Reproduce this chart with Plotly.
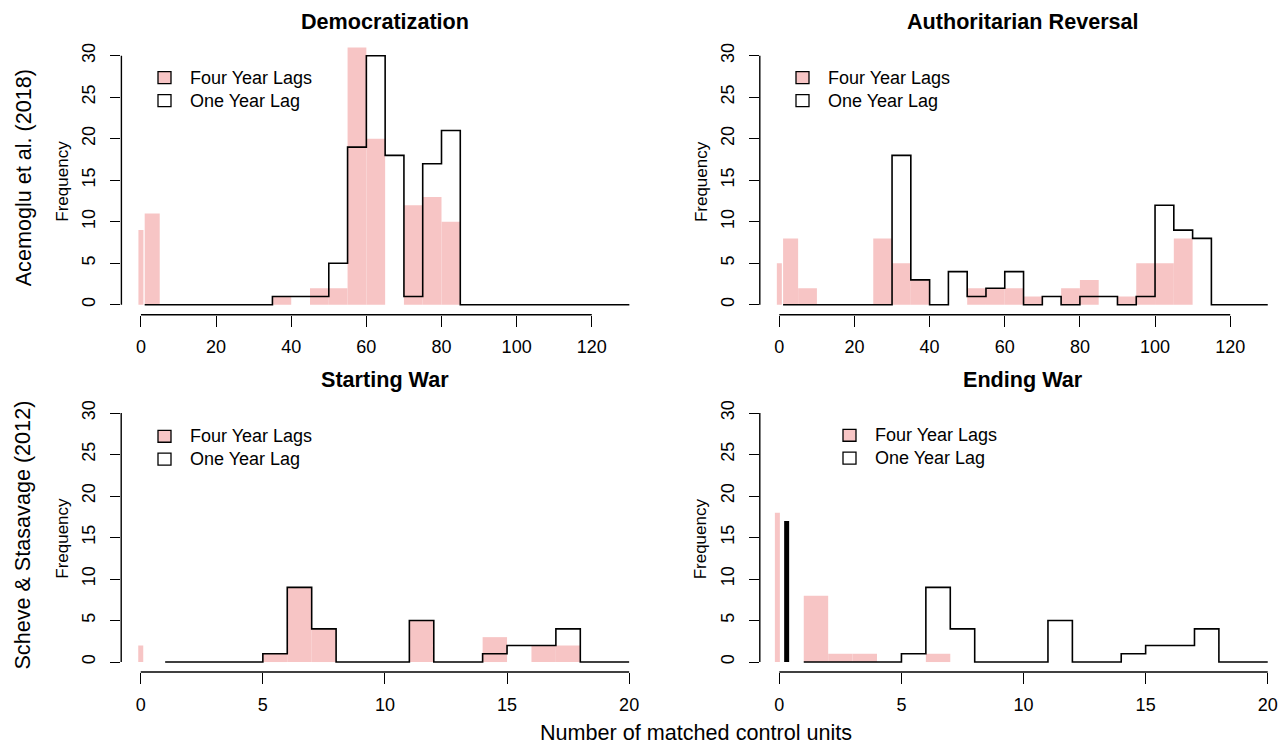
import plotly.graph_objects as go

# ---------------- data ----------------
# top row: bins of width 5 (first bin starts at 1), 1..130
top_edges = [1] + list(range(5, 131, 5))
# bottom row: bins of width 1, 1..20
bot_edges = list(range(1, 21))

demo_four = [11, 0, 0, 0, 0, 0, 0, 1, 0, 2, 2, 31, 20, 0, 12, 13, 10, 0, 0, 0, 0, 0, 0, 0, 0, 0]
demo_one = [0, 0, 0, 0, 0, 0, 0, 1, 1, 1, 5, 19, 30, 18, 1, 17, 21, 0, 0, 0, 0, 0, 0, 0, 0, 0]
demo_zero_four = 9

auth_four = [8, 2, 0, 0, 0, 8, 5, 3, 0, 0, 2, 2, 2, 1, 0, 2, 3, 0, 1, 5, 5, 8, 0, 0, 0, 0]
auth_one = [0, 0, 0, 0, 0, 0, 18, 3, 0, 4, 1, 2, 4, 0, 1, 0, 1, 1, 0, 1, 12, 9, 8, 0, 0, 0]
auth_zero_four = 5

start_four = [0, 0, 0, 0, 1, 9, 4, 0, 0, 0, 5, 0, 0, 3, 0, 2, 2, 0, 0]
start_one = [0, 0, 0, 0, 1, 9, 4, 0, 0, 0, 5, 0, 0, 1, 2, 2, 4, 0, 0]
start_zero_four = 2

end_four = [8, 1, 1, 0, 0, 1, 0, 0, 0, 0, 0, 0, 0, 0, 0, 0, 0, 0, 0]
end_one = [0, 0, 0, 0, 1, 9, 4, 0, 0, 0, 5, 0, 0, 1, 2, 2, 4, 0, 0]
end_zero_four = 18
end_zero_one = 17

titles = ["Democratization", "Authoritarian Reversal", "Starting War", "Ending War"]
row_labels = ["Acemoglu et al. (2018)", "Scheve & Stasavage (2012)"]
legend_labels = ["Four Year Lags", "One Year Lag"]
x_ticks_top = [0, 20, 40, 60, 80, 100, 120]
x_ticks_bot = [0, 5, 10, 15, 20]
y_ticks = [0, 5, 10, 15, 20, 25, 30]
x_label = "Number of matched control units"
y_label = "Frequency"

# ---------------- style ----------------
W, H = 1286, 748
PINK = "rgb(247,197,197)"
FONT = "Liberation Sans, Arial, sans-serif"
BASE = 18


def px(x):
    return x / W


def py(y):
    return 1 - y / H


# pixel geometry of the four plot regions (left, right, top, bottom)
regions = [
    (121.4, 649.0, 43.0, 313.0),
    (759.8, 1286.0, 43.0, 313.0),
    (121.2, 648.6, 401.7, 671.7),
    (759.8, 1286.0, 401.7, 671.7),
]
# x-axis scale: (value at left edge, px per unit)
xscale = [(-5.2, 3.757), (-5.2, 3.757), (-0.8, 24.42), (-0.8, 24.42)]

panels = [
    dict(edges=top_edges, four=demo_four, one=demo_one, zf=(0.0, demo_zero_four), zo=None, ticks=x_ticks_top, leg=(158, 69)),
    dict(edges=top_edges, four=auth_four, one=auth_one, zf=(0.0, auth_zero_four), zo=None, ticks=x_ticks_top, leg=(796, 69)),
    dict(edges=bot_edges, four=start_four, one=start_one, zf=(0.0, start_zero_four), zo=None, ticks=x_ticks_bot, leg=(158, 429)),
    dict(edges=bot_edges, four=end_four, one=end_one, zf=(-0.08, end_zero_four), zo=(0.3, end_zero_one), ticks=x_ticks_bot, leg=(843, 428)),
]

fig = go.Figure()
shapes = []
annotations = []

for i, p in enumerate(panels):
    n = i + 1
    xa = "x" if n == 1 else f"x{n}"
    ya = "y" if n == 1 else f"y{n}"
    xkey = "xaxis" if n == 1 else f"xaxis{n}"
    ykey = "yaxis" if n == 1 else f"yaxis{n}"
    L, R, T, B = regions[i]
    x0v, sc = xscale[i]
    xr = [x0v, x0v + (R - L) / sc]

    edges = p["edges"]
    centers = [(edges[k] + edges[k + 1]) / 2 for k in range(len(edges) - 1)]
    widths = [edges[k + 1] - edges[k] for k in range(len(edges) - 1)]

    fig.add_trace(go.Bar(x=centers, y=p["four"], width=widths, marker=dict(color=PINK, line=dict(width=0)),
                         xaxis=xa, yaxis=ya, showlegend=False, hoverinfo="skip"))
    # zero-count spike(s)
    zx, zy = p["zf"]
    fig.add_trace(go.Scatter(x=[zx, zx], y=[0, zy], mode="lines", line=dict(color=PINK, width=5),
                             xaxis=xa, yaxis=ya, showlegend=False, hoverinfo="skip"))
    if p["zo"] is not None:
        zx, zy = p["zo"]
        fig.add_trace(go.Scatter(x=[zx, zx], y=[0, zy], mode="lines", line=dict(color="black", width=5),
                                 xaxis=xa, yaxis=ya, showlegend=False, hoverinfo="skip"))
    # one-year-lag outline (step)
    fig.add_trace(go.Scatter(x=edges, y=p["one"] + [p["one"][-1]], mode="lines", line=dict(color="black", width=1.6, shape="hv"),
                             xaxis=xa, yaxis=ya, showlegend=False, hoverinfo="skip"))

    fig.layout[xkey] = dict(domain=[px(L), px(R)], range=xr, anchor=ya, showgrid=False, zeroline=False, showline=False,
                           tickmode="array", tickvals=p["ticks"], ticks="outside", ticklen=11, tickwidth=1.4, tickcolor="black",
                           tickfont=dict(size=BASE, color="black", family=FONT), ticklabelstandoff=5, fixedrange=True)
    fig.layout[ykey] = dict(domain=[py(B), py(T)], range=[-1.2, 31.2], anchor=xa, showgrid=False, zeroline=False, showline=False,
                           tickmode="array", tickvals=y_ticks, ticks="outside", ticklen=10, tickwidth=1.4, tickcolor="black",
                           tickangle=-90, tickfont=dict(size=BASE, color="black", family=FONT), ticklabelstandoff=8, fixedrange=True)

    # partial axis lines (R style)
    shapes.append(dict(type="line", xref=xa, yref=f"{ya} domain", x0=min(p["ticks"]), x1=max(p["ticks"]), y0=0, y1=0,
                       line=dict(color="black", width=1.4)))
    shapes.append(dict(type="line", xref=f"{xa} domain", yref=ya, x0=0, x1=0, y0=min(y_ticks), y1=max(y_ticks),
                       line=dict(color="black", width=1.4)))

    # title
    annotations.append(dict(text=f"<b>{titles[i]}</b>", x=px((L + R) / 2) if i % 2 == 0 else px(1023), y=py(T - 24),
                            xref="paper", yref="paper", showarrow=False, xanchor="center", yanchor="middle",
                            font=dict(size=21.6, family=FONT, color="black")))
    # Frequency label
    annotations.append(dict(text=y_label, x=px(L - 59), y=py((T + B) / 2 + 1), xref="paper", yref="paper", showarrow=False,
                            textangle=-90, xanchor="center", yanchor="middle", font=dict(size=17, family=FONT, color="black")))

    # legend (drawn manually inside the panel)
    lx, ly = p["leg"]
    for j, (lab, fill) in enumerate(zip(legend_labels, [PINK, "white"])):
        yy = ly + j * 23
        shapes.append(dict(type="rect", xref="paper", yref="paper", x0=px(lx), x1=px(lx + 13), y0=py(yy + 12), y1=py(yy),
                           line=dict(color="black", width=1.3), fillcolor=fill))
        annotations.append(dict(text=lab, x=px(lx + 30), y=py(yy + 6), xref="paper", yref="paper", showarrow=False,
                                xanchor="left", yanchor="middle", font=dict(size=BASE, family=FONT, color="black")))

# row labels (outer margin)
for lab, (T, B) in zip(row_labels, [(43.0, 313.0), (401.7, 671.7)]):
    annotations.append(dict(text=lab, x=px(23), y=py((T + B) / 2 - 2), xref="paper", yref="paper", showarrow=False,
                            textangle=-90, xanchor="center", yanchor="middle", font=dict(size=21.6, family=FONT, color="black")))

annotations.append(dict(text=x_label, x=px(696), y=py(747), xref="paper", yref="paper", showarrow=False,
                        xanchor="center", yanchor="bottom", font=dict(size=21.6, family=FONT, color="black")))

fig.update_layout(width=W, height=H, margin=dict(l=0, r=0, t=0, b=0), autosize=False,
                  paper_bgcolor="white", plot_bgcolor="white", showlegend=False,
                  barmode="overlay", shapes=shapes, annotations=annotations,
                  font=dict(family=FONT, color="black"))

fig.write_html("out.html", config={"displayModeBar": False},
               post_script="document.body.style.margin='0';document.body.style.overflow='hidden';")
